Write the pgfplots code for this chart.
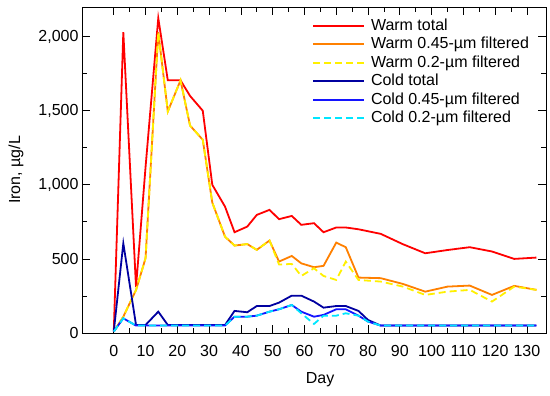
\documentclass[border=0pt]{standalone}
\usepackage{fontspec}
\setmainfont{Liberation Sans}
\usepackage{pgfplots}
\pgfplotsset{compat=1.18}
\usepackage{pgfplotstable}
\definecolor{worange}{RGB}{255,128,0}
\definecolor{wyellow}{RGB}{255,240,0}
\definecolor{cnavy}{RGB}{0,0,160}
\definecolor{cblue}{RGB}{20,20,255}
\definecolor{ccyan}{RGB}{0,230,255}

\pgfplotstableread{
d v
0 10
3 2030
7 310
10 1120
14 2125
17 1705
21 1705
24 1600
28 1500
31 1000
35 853
38 680
42 718
45 797
49 831
52 768
56 790
59 730
63 741
66 680
70 712
73 712
77 700
84 669
91 599
98 538
105 560
112 579
119 550
126 500
133 509
}\warmtotal

\pgfplotstableread{
d v
0 10
3 110
7 290
10 505
14 2030
17 1495
21 1705
24 1400
28 1304
31 880
35 650
38 590
42 600
45 561
49 624
52 482
56 520
59 470
63 444
66 453
70 610
73 579
77 374
84 370
91 331
98 279
105 313
112 320
119 257
126 318
133 291
}\warmfortyfive

\pgfplotstableread{
d v
0 10
3 110
7 290
10 505
14 2030
17 1495
21 1705
24 1400
28 1304
31 880
35 650
38 590
42 600
45 561
49 624
52 462
56 466
59 385
63 437
66 385
70 358
73 482
77 358
84 347
91 313
98 257
105 279
112 291
119 212
126 313
133 291
}\warmtwo

\pgfplotstableread{
d v
0 10
3 605
7 54
10 54
14 144
17 54
21 54
24 54
28 54
31 54
35 54
38 149
42 140
45 182
49 182
52 205
56 252
59 252
63 212
66 171
70 182
73 182
77 149
80 88
84 50
91 50
98 50
105 50
112 50
119 50
126 50
133 50
}\coldtotal

\pgfplotstableread{
d v
0 10
3 99
7 50
10 50
14 50
17 50
21 50
24 50
28 50
31 50
35 50
38 110
42 110
45 117
49 144
52 160
56 189
59 144
63 110
66 122
70 160
73 160
77 117
80 77
84 50
91 50
98 50
105 50
112 50
119 50
126 50
133 50
}\coldfortyfive

\pgfplotstableread{
d v
0 10
3 99
7 50
10 50
14 50
17 50
21 50
24 50
28 50
31 50
35 50
38 110
42 110
45 117
49 144
52 160
56 189
59 133
63 61
66 117
70 117
73 133
77 117
80 77
84 50
91 50
98 50
105 50
112 50
119 50
126 50
133 50
}\coldtwo

\begin{document}
\begin{tikzpicture}
\useasboundingbox (-82pt,-63pt) rectangle (468pt,333pt);
\begin{axis}[
  at={(0pt,0pt)}, anchor=south west,
  scale only axis, width=464pt, height=326pt,
  xmin=-10, xmax=136, ymin=0, ymax=2200,
  xtick={0,10,...,130}, minor x tick num=1,
  ytick={0,500,...,2000}, minor y tick num=1,
  tick align=inside,
  major tick length=8pt, minor tick length=5pt,
  axis line style={line width=0.8pt, black},
  every tick/.style={line width=0.8pt, black},
  font=\fontsize{16}{19}\selectfont,
  /pgf/number format/assume math mode=true,
  /pgf/number format/1000 sep={,},
  tick label style={font=\fontsize{16}{19}\selectfont},
  x tick label style={yshift=-8.5pt},
  xlabel={Day}, ylabel={Iron, µg/L},
  every axis x label/.style={at={(axis description cs:0.513,0)}, yshift=-47pt, anchor=center},
  every axis y label/.style={at={(axis description cs:0,0.5)}, xshift=-66pt, rotate=90, anchor=center},
  legend style={draw=none, fill=none, at={(axis description cs:0.4957,0.965)}, anchor=north west,
    inner sep=0pt, row sep=4pt, column sep=6pt,
    nodes={inner sep=0pt, text height=11.5pt, text depth=3pt, anchor=west},
    font=\fontsize{16}{19}\selectfont},
  legend cell align=left,
  legend image code/.code={\draw[#1] (0pt,0pt) -- (51pt,0pt);},
]
\addplot[red, line width=1.8pt, mark=none] table[x=d,y=v] {\warmtotal};
\addlegendentry{Warm total}
\addplot[worange, line width=1.8pt, mark=none] table[x=d,y=v] {\warmfortyfive};
\addlegendentry{Warm 0.45-µm filtered}
\addplot[wyellow, line width=1.8pt, dash pattern=on 7pt off 4pt, mark=none] table[x=d,y=v] {\warmtwo};
\addlegendentry{Warm 0.2-µm filtered}
\addplot[cnavy, line width=1.8pt, mark=none] table[x=d,y=v] {\coldtotal};
\addlegendentry{Cold total}
\addplot[cblue, line width=1.8pt, mark=none] table[x=d,y=v] {\coldfortyfive};
\addlegendentry{Cold 0.45-µm filtered}
\addplot[ccyan, line width=1.8pt, dash pattern=on 7pt off 4pt, mark=none] table[x=d,y=v] {\coldtwo};
\addlegendentry{Cold 0.2-µm filtered}
\end{axis}
\end{tikzpicture}
\end{document}
